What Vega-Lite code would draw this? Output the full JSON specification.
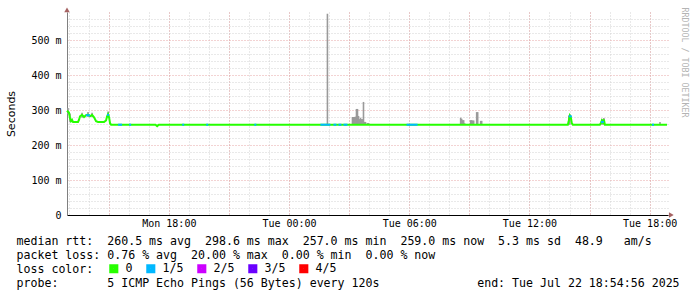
{
  "$schema": "https://vega.github.io/schema/vega-lite/v6.json",
  "width": 601,
  "height": 203,
  "autosize": "none",
  "padding": {"left": 67, "top": 12, "right": 29, "bottom": 82},
  "background": "white",
  "config": {"view": {"stroke": null}},
  "title": {"text": "RRDTOOL / TOBI OETIKER", "orient": "right", "anchor": "start", "offset": 2, "fontSize": 8.3, "font": "DejaVu Sans Mono", "fontWeight": "normal", "color": "#b4b4b4"},
  "resolve": {"axis": {"x": "independent", "y": "independent"}},
  "datasets": {
    "median": [
      {"t": "2025-07-21T12:55:00Z", "v": 298, "loss": "0"},
      {"t": "2025-07-21T13:01:00Z", "v": 292, "loss": "0"},
      {"t": "2025-07-21T13:04:00Z", "v": 276, "loss": "0"},
      {"t": "2025-07-21T13:07:00Z", "v": 268, "loss": "0"},
      {"t": "2025-07-21T13:10:00Z", "v": 272, "loss": "0"},
      {"t": "2025-07-21T13:13:00Z", "v": 266, "loss": "0"},
      {"t": "2025-07-21T13:28:00Z", "v": 266, "loss": "0"},
      {"t": "2025-07-21T13:31:00Z", "v": 272, "loss": "0"},
      {"t": "2025-07-21T13:34:00Z", "v": 282, "loss": "0"},
      {"t": "2025-07-21T13:40:00Z", "v": 286, "loss": "0"},
      {"t": "2025-07-21T13:46:00Z", "v": 280, "loss": "0"},
      {"t": "2025-07-21T13:52:00Z", "v": 285, "loss": "0"},
      {"t": "2025-07-21T13:58:00Z", "v": 287, "loss": "0"},
      {"t": "2025-07-21T14:04:00Z", "v": 282, "loss": "0"},
      {"t": "2025-07-21T14:10:00Z", "v": 286, "loss": "0"},
      {"t": "2025-07-21T14:16:00Z", "v": 279, "loss": "0"},
      {"t": "2025-07-21T14:22:00Z", "v": 268, "loss": "0"},
      {"t": "2025-07-21T14:28:00Z", "v": 266, "loss": "0"},
      {"t": "2025-07-21T14:46:00Z", "v": 266, "loss": "0"},
      {"t": "2025-07-21T14:52:00Z", "v": 270, "loss": "0"},
      {"t": "2025-07-21T14:55:00Z", "v": 282, "loss": "0"},
      {"t": "2025-07-21T14:58:00Z", "v": 288, "loss": "0"},
      {"t": "2025-07-21T15:01:00Z", "v": 279, "loss": "0"},
      {"t": "2025-07-21T15:04:00Z", "v": 262, "loss": "0"},
      {"t": "2025-07-21T15:07:00Z", "v": 258, "loss": "0"},
      {"t": "2025-07-21T17:20:00Z", "v": 258, "loss": "0"},
      {"t": "2025-07-21T17:25:00Z", "v": 254, "loss": "0"},
      {"t": "2025-07-21T17:30:00Z", "v": 258, "loss": "0"},
      {"t": "2025-07-22T13:55:00Z", "v": 258, "loss": "0"},
      {"t": "2025-07-22T13:58:00Z", "v": 270, "loss": "0"},
      {"t": "2025-07-22T14:01:00Z", "v": 284, "loss": "0"},
      {"t": "2025-07-22T14:04:00Z", "v": 279, "loss": "0"},
      {"t": "2025-07-22T14:07:00Z", "v": 262, "loss": "0"},
      {"t": "2025-07-22T14:10:00Z", "v": 258, "loss": "0"},
      {"t": "2025-07-22T15:31:00Z", "v": 258, "loss": "0"},
      {"t": "2025-07-22T15:34:00Z", "v": 263, "loss": "0"},
      {"t": "2025-07-22T15:37:00Z", "v": 270, "loss": "0"},
      {"t": "2025-07-22T15:40:00Z", "v": 264, "loss": "0"},
      {"t": "2025-07-22T15:43:00Z", "v": 273, "loss": "0"},
      {"t": "2025-07-22T15:46:00Z", "v": 258, "loss": "0"},
      {"t": "2025-07-22T18:52:00Z", "v": 258, "loss": "0"}
    ],
    "lossseg": [
      {"t": "2025-07-21T13:52:00Z", "t2": "2025-07-21T14:04:00Z", "v": 285, "loss": "1/5"},
      {"t": "2025-07-21T14:55:00Z", "t2": "2025-07-21T15:01:00Z", "v": 286, "loss": "1/5"},
      {"t": "2025-07-21T15:28:00Z", "t2": "2025-07-21T15:40:00Z", "v": 258, "loss": "1/5"},
      {"t": "2025-07-21T16:01:00Z", "t2": "2025-07-21T16:07:00Z", "v": 258, "loss": "1/5"},
      {"t": "2025-07-21T18:40:00Z", "t2": "2025-07-21T18:46:00Z", "v": 258, "loss": "1/5"},
      {"t": "2025-07-21T19:52:00Z", "t2": "2025-07-21T19:58:00Z", "v": 258, "loss": "1/5"},
      {"t": "2025-07-21T22:16:00Z", "t2": "2025-07-21T22:22:00Z", "v": 258, "loss": "1/5"},
      {"t": "2025-07-22T01:34:00Z", "t2": "2025-07-22T02:04:00Z", "v": 258, "loss": "1/5"},
      {"t": "2025-07-22T02:13:00Z", "t2": "2025-07-22T02:22:00Z", "v": 258, "loss": "1/5"},
      {"t": "2025-07-22T02:28:00Z", "t2": "2025-07-22T02:37:00Z", "v": 258, "loss": "1/5"},
      {"t": "2025-07-22T02:43:00Z", "t2": "2025-07-22T02:55:00Z", "v": 258, "loss": "1/5"},
      {"t": "2025-07-22T05:52:00Z", "t2": "2025-07-22T06:25:00Z", "v": 258, "loss": "1/5"},
      {"t": "2025-07-22T13:58:00Z", "t2": "2025-07-22T14:07:00Z", "v": 282, "loss": "1/5"},
      {"t": "2025-07-22T15:34:00Z", "t2": "2025-07-22T15:43:00Z", "v": 266, "loss": "1/5"},
      {"t": "2025-07-22T18:07:00Z", "t2": "2025-07-22T18:13:00Z", "v": 258, "loss": "1/5"}
    ],
    "smoke": [
      {"t": "2025-07-21T12:58:00Z", "lo": 288, "hi": 306},
      {"t": "2025-07-21T13:04:00Z", "lo": 265, "hi": 290},
      {"t": "2025-07-21T13:40:00Z", "lo": 278, "hi": 292},
      {"t": "2025-07-21T13:58:00Z", "lo": 280, "hi": 294},
      {"t": "2025-07-21T14:10:00Z", "lo": 280, "hi": 292},
      {"t": "2025-07-21T14:58:00Z", "lo": 278, "hi": 296},
      {"t": "2025-07-22T01:55:00Z", "lo": 258, "hi": 575},
      {"t": "2025-07-22T03:10:00Z", "lo": 258, "hi": 280},
      {"t": "2025-07-22T03:13:00Z", "lo": 258, "hi": 280},
      {"t": "2025-07-22T03:16:00Z", "lo": 258, "hi": 280},
      {"t": "2025-07-22T03:19:00Z", "lo": 258, "hi": 281},
      {"t": "2025-07-22T03:22:00Z", "lo": 258, "hi": 303},
      {"t": "2025-07-22T03:25:00Z", "lo": 258, "hi": 303},
      {"t": "2025-07-22T03:28:00Z", "lo": 258, "hi": 283},
      {"t": "2025-07-22T03:31:00Z", "lo": 258, "hi": 274},
      {"t": "2025-07-22T03:34:00Z", "lo": 258, "hi": 278},
      {"t": "2025-07-22T03:37:00Z", "lo": 258, "hi": 274},
      {"t": "2025-07-22T03:40:00Z", "lo": 258, "hi": 274},
      {"t": "2025-07-22T03:43:00Z", "lo": 258, "hi": 323},
      {"t": "2025-07-22T03:46:00Z", "lo": 258, "hi": 266},
      {"t": "2025-07-22T03:49:00Z", "lo": 258, "hi": 266},
      {"t": "2025-07-22T03:55:00Z", "lo": 258, "hi": 263},
      {"t": "2025-07-22T03:58:00Z", "lo": 258, "hi": 263},
      {"t": "2025-07-22T08:34:00Z", "lo": 258, "hi": 278},
      {"t": "2025-07-22T08:37:00Z", "lo": 258, "hi": 275},
      {"t": "2025-07-22T08:40:00Z", "lo": 258, "hi": 271},
      {"t": "2025-07-22T08:43:00Z", "lo": 258, "hi": 271},
      {"t": "2025-07-22T08:46:00Z", "lo": 258, "hi": 262},
      {"t": "2025-07-22T09:04:00Z", "lo": 258, "hi": 271},
      {"t": "2025-07-22T09:07:00Z", "lo": 258, "hi": 271},
      {"t": "2025-07-22T09:10:00Z", "lo": 258, "hi": 270},
      {"t": "2025-07-22T09:13:00Z", "lo": 258, "hi": 270},
      {"t": "2025-07-22T09:22:00Z", "lo": 258, "hi": 294},
      {"t": "2025-07-22T09:25:00Z", "lo": 258, "hi": 294},
      {"t": "2025-07-22T09:34:00Z", "lo": 258, "hi": 269},
      {"t": "2025-07-22T09:37:00Z", "lo": 258, "hi": 269},
      {"t": "2025-07-22T13:58:00Z", "lo": 258, "hi": 284},
      {"t": "2025-07-22T14:01:00Z", "lo": 258, "hi": 287},
      {"t": "2025-07-22T15:37:00Z", "lo": 258, "hi": 274},
      {"t": "2025-07-22T15:43:00Z", "lo": 258, "hi": 277},
      {"t": "2025-07-22T18:31:00Z", "lo": 258, "hi": 266}
    ],
    "arrows": [
      {"t": "2025-07-22T19:05:00Z", "v": 0, "dir": "right"},
      {"t": "2025-07-21T12:55:00Z", "v": 586, "dir": "up"}
    ]
  },
  "layer": [
    {
      "data": {"name": "smoke"},
      "mark": {"type": "rule", "color": "#9a9a9a", "strokeWidth": 1.6},
      "encoding": {
        "x": {
          "field": "t", "type": "temporal",
          "scale": {"type": "utc", "domain": [{"year": 2025, "month": 7, "date": 21, "hours": 12, "minutes": 55, "utc": true}, {"year": 2025, "month": 7, "date": 22, "hours": 18, "minutes": 55, "utc": true}]},
          "axis": {
            "orient": "bottom", "tickCount": 30, "grid": true, "gridColor": "#d2d2d2", "gridDash": [1, 2],
            "labels": false, "ticks": false, "domain": false, "title": null
          }
        },
        "y": {
          "field": "lo", "type": "quantitative",
          "scale": {"domain": [0, 580], "nice": false, "zero": false},
          "axis": {
            "orient": "left",
            "values": [20, 40, 60, 80, 120, 140, 160, 180, 220, 240, 260, 280, 320, 340, 360, 380, 420, 440, 460, 480, 520, 540, 560],
            "grid": true, "gridColor": "#d2d2d2", "gridDash": [1, 2],
            "labels": false, "ticks": false, "domain": false, "title": null
          }
        },
        "y2": {"field": "hi"}
      }
    },
    {
      "data": {"name": "median"},
      "mark": {"type": "line", "strokeWidth": 2},
      "encoding": {
        "x": {
          "field": "t", "type": "temporal",
          "axis": {
            "orient": "bottom",
            "tickCount": 10,
            "labelExpr": "utchours(datum.value) % 6 == 0 ? utcFormat(datum.value, '%a %H:%M') : ''",
            "grid": true, "gridColor": "#e6a6a6", "gridDash": [1, 2],
            "ticks": false, "tickSize": 0,
            "labelPadding": 3,
            "labelFont": "DejaVu Sans Mono", "labelFontSize": 10, "labelColor": "#000",
            "labelOverlap": false, "labelFlush": false,
            "domainColor": "#000",
            "title": [
              "median rtt:\u00a0\u00a0260.5 ms avg\u00a0\u00a0298.6 ms max\u00a0\u00a0257.0 ms min\u00a0\u00a0259.0 ms now\u00a0\u00a05.3 ms sd\u00a0\u00a048.9\u00a0\u00a0\u00a0am/s",
              "packet loss: 0.76 % avg\u00a0\u00a020.00 % max\u00a0\u00a00.00 % min\u00a0\u00a00.00 % now",
              "loss color:",
              "probe:\u00a0\u00a0\u00a0\u00a0\u00a0\u00a0\u00a05 ICMP Echo Pings (56 Bytes) every 120s\u00a0\u00a0\u00a0\u00a0\u00a0\u00a0\u00a0\u00a0\u00a0\u00a0\u00a0\u00a0\u00a0\u00a0end: Tue Jul 22 18:54:56 2025"
            ],
            "titleAnchor": "start", "titleAlign": "left", "titleBaseline": "top",
            "titleX": -51, "titleY": 20,
            "titleFont": "DejaVu Sans Mono", "titleFontSize": 11.6, "titleFontWeight": "normal",
            "titleLineHeight": 14, "titleColor": "#000"
          }
        },
        "y": {
          "field": "v", "type": "quantitative",
          "axis": {
            "orient": "left",
            "values": [0, 100, 200, 300, 400, 500],
            "labelExpr": "datum.value == 0 ? '0' : datum.label + ' m'",
            "grid": true, "gridColor": "#e6a6a6", "gridDash": [1, 2],
            "ticks": false, "tickSize": 0,
            "labelPadding": 6,
            "labelFont": "DejaVu Sans Mono", "labelFontSize": 10, "labelColor": "#000",
            "labelOverlap": false,
            "domainColor": "#808080",
            "title": "Seconds",
            "titleFont": "DejaVu Sans", "titleFontSize": 11, "titleFontWeight": "normal", "titleColor": "#000",
            "titlePadding": 14
          }
        },
        "color": {
          "field": "loss", "type": "nominal",
          "scale": {"domain": ["0", "1/5", "2/5", "3/5", "4/5"], "range": ["#26ff00", "#00b8ff", "#cc00ff", "#6a00ff", "#ff0000"]},
          "legend": {
            "orient": "none", "legendX": 41, "legendY": 251,
            "direction": "horizontal",
            "title": null,
            "labelFont": "DejaVu Sans Mono", "labelFontSize": 11.6, "labelColor": "#000",
            "labelOffset": 6, "columnPadding": 6,
            "symbolType": "square", "symbolSize": 22, "symbolStrokeWidth": 4.4
          }
        }
      }
    },
    {
      "data": {"name": "lossseg"},
      "mark": {"type": "rule", "strokeWidth": 2},
      "encoding": {
        "x": {"field": "t", "type": "temporal", "axis": null},
        "x2": {"field": "t2"},
        "y": {"field": "v", "type": "quantitative", "axis": null},
        "color": {"field": "loss", "type": "nominal"}
      }
    },
    {
      "data": {"name": "arrows"},
      "transform": [{"filter": "datum.dir == 'right'"}],
      "mark": {"type": "point", "shape": "triangle-right", "filled": true, "color": "#7f1f1f", "size": 30},
      "encoding": {
        "x": {"field": "t", "type": "temporal", "axis": null},
        "y": {"field": "v", "type": "quantitative", "axis": null}
      }
    },
    {
      "data": {"name": "arrows"},
      "transform": [{"filter": "datum.dir == 'up'"}],
      "mark": {"type": "point", "shape": "triangle-up", "filled": true, "color": "#7f1f1f", "size": 30},
      "encoding": {
        "x": {"field": "t", "type": "temporal", "axis": null},
        "y": {"field": "v", "type": "quantitative", "axis": null}
      }
    }
  ]
}
